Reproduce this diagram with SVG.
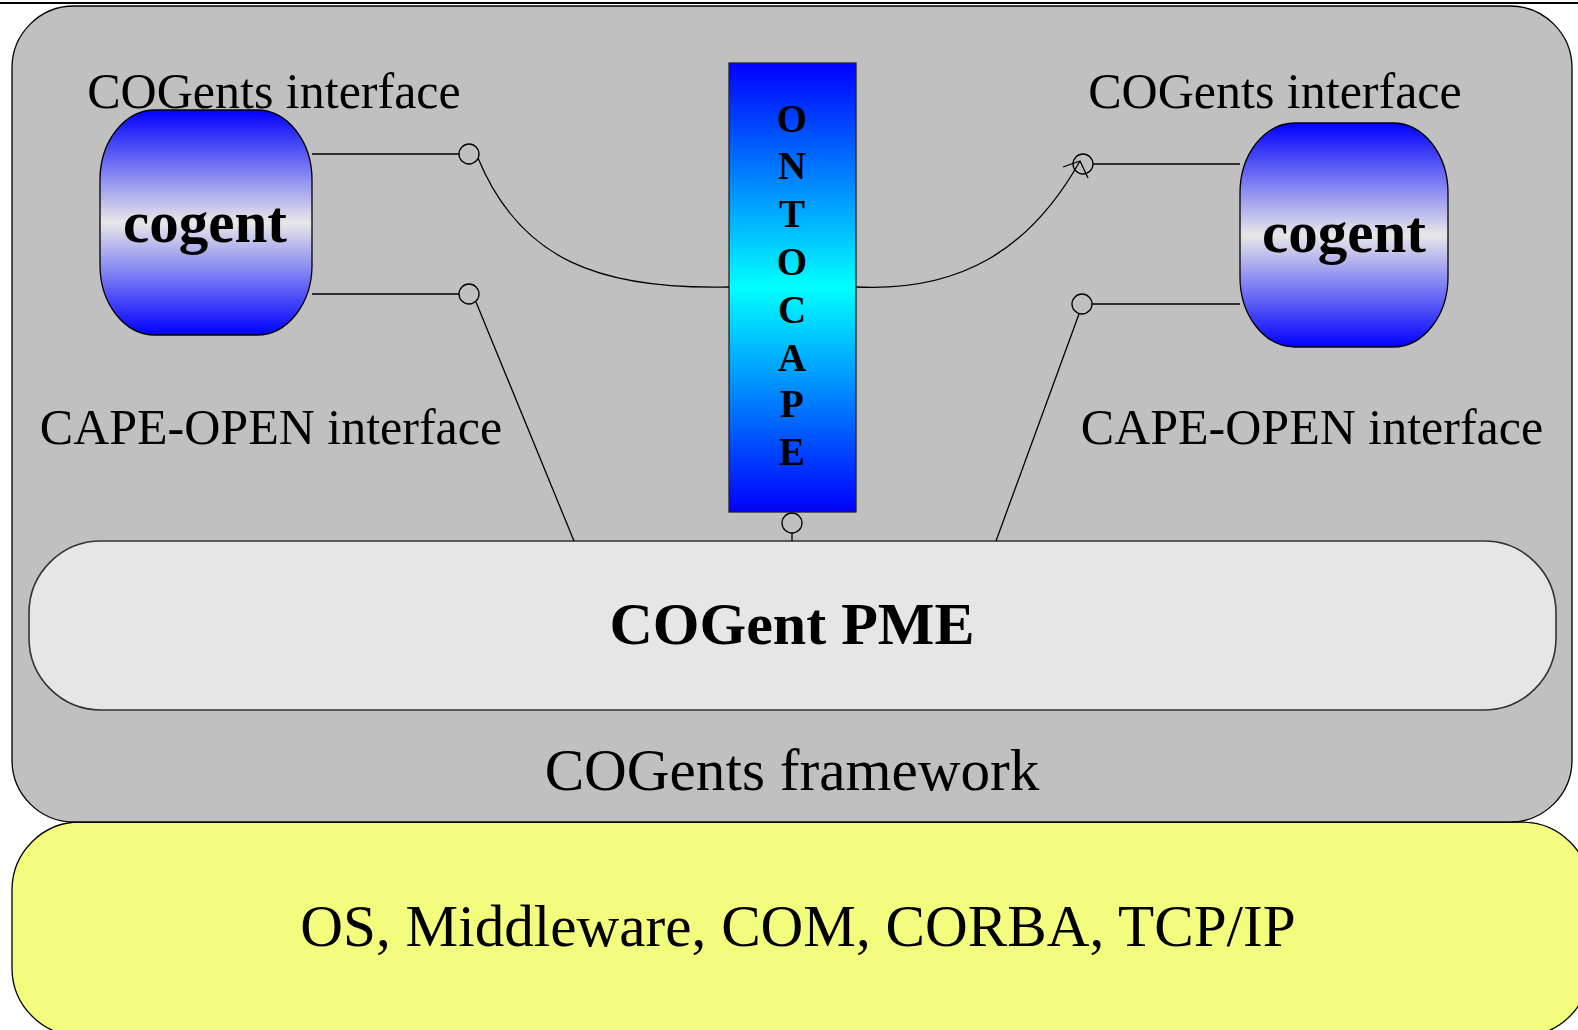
<svg xmlns="http://www.w3.org/2000/svg" width="1578" height="1030" viewBox="0 0 1578 1030">
<style>
.t{font-family:"Liberation Serif","Times New Roman",serif;fill:#000;text-anchor:middle}
.b{font-weight:bold}
.ln{fill:none;stroke:#000;stroke-width:1.3}
.port{fill:none;stroke:#000;stroke-width:1.3}
</style>
<defs>
<linearGradient id="gCog" x1="0" y1="0" x2="0" y2="1">
<stop offset="0" stop-color="#0000ff"/>
<stop offset="0.5" stop-color="#e8e8e8"/>
<stop offset="1" stop-color="#0000ff"/>
</linearGradient>
<linearGradient id="gOnto" x1="0" y1="0" x2="0" y2="1">
<stop offset="0" stop-color="#0000ff"/>
<stop offset="0.5" stop-color="#00ffff"/>
<stop offset="1" stop-color="#0000ff"/>
</linearGradient>
</defs>
<rect width="1578" height="1030" fill="#fff"/>
<line x1="0" y1="3" x2="1578" y2="3" stroke="#000" stroke-width="2.2"/>
<g id="os">
<rect x="12" y="822" width="1578" height="214" rx="68" ry="68" fill="#f3fd7d" stroke="#000" stroke-width="1.3"/>
<text class="t" x="798" y="946" font-size="59.2">OS, Middleware, COM, CORBA, TCP/IP</text>
</g>
<g id="framework">
<rect x="12" y="6" width="1560" height="816" rx="62" ry="62" fill="#c0c0c0" stroke="#000" stroke-width="1.3"/>
<text class="t" x="792" y="790" font-size="59.2">COGents framework</text>
</g>
<g id="pme">
<rect x="29" y="541" width="1527" height="169" rx="72" ry="72" fill="#e6e6e6" stroke="#333" stroke-width="1.6"/>
<text class="t b" x="792" y="644" font-size="60">COGent PME</text>
</g>
<g id="cogent-left">
<rect x="100" y="110" width="212" height="225" rx="55" ry="70" fill="url(#gCog)" stroke="#000" stroke-width="1.3"/>
<text class="t b" x="205" y="242" font-size="59">cogent</text>
</g>
<g id="cogent-right">
<rect x="1240" y="123" width="208" height="224" rx="55" ry="70" fill="url(#gCog)" stroke="#000" stroke-width="1.3"/>
<text class="t b" x="1344" y="252" font-size="59">cogent</text>
</g>
<g id="ontocape">
<rect x="729" y="63" width="127" height="449" fill="url(#gOnto)" stroke="#222" stroke-width="1.3"/>
<g class="t b" font-size="39">
<text x="792" y="132">O</text>
<text x="792" y="179">N</text>
<text x="792" y="227">T</text>
<text x="792" y="275">O</text>
<text x="792" y="323">C</text>
<text x="792" y="371">A</text>
<text x="792" y="417">P</text>
<text x="792" y="465">E</text>
</g>
</g>
<g id="labels">
<text class="t" x="274" y="108" font-size="50">COGents interface</text>
<text class="t" x="1275" y="108" font-size="50">COGents interface</text>
<text class="t" x="271" y="444" font-size="50">CAPE-OPEN interface</text>
<text class="t" x="1312" y="444" font-size="50">CAPE-OPEN interface</text>
</g>
<g id="connectors">
<line class="ln" x1="312" y1="154" x2="459" y2="154"/>
<circle class="port" cx="469" cy="154" r="10"/>
<line class="ln" x1="312" y1="294" x2="459" y2="294"/>
<circle class="port" cx="469" cy="294" r="10"/>
<path class="ln" d="M478 158 C520 260 600 290 729 287"/>
<line class="ln" x1="476" y1="302" x2="574" y2="541"/>
<circle class="port" cx="792" cy="523" r="10"/>
<line class="ln" x1="792" y1="533" x2="792" y2="541"/>
<line class="ln" x1="1093" y1="164" x2="1240" y2="164"/>
<circle class="port" cx="1083" cy="164" r="10"/>
<path class="ln" d="M856 287 C960 292 1030 250 1080 161"/>
<polyline class="ln" points="1063,167 1080,161 1088,178"/>
<line class="ln" x1="1092" y1="304" x2="1240" y2="304" stroke="#333"/>
<circle class="port" cx="1082" cy="304" r="10"/>
<line class="ln" x1="1079" y1="314" x2="996" y2="541"/>
</g>
</svg>
